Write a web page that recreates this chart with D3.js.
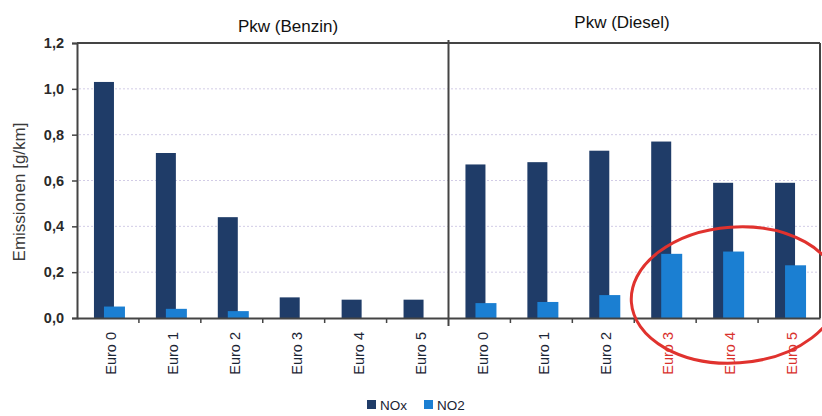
<!DOCTYPE html>
<html>
<head>
<meta charset="utf-8">
<script src="https://cdn.jsdelivr.net/npm/d3@7/dist/d3.min.js"></script>
<style>
  html, body { margin: 0; padding: 0; background: #fff; }
  svg { display: block; }
  text { font-family: "Liberation Sans", Arial, sans-serif; }
</style>
</head>
<body>
<svg id="chart" width="822" height="416"></svg>
<script>
// Emission classes per vehicle group
const groups = ["Pkw (Benzin)", "Pkw (Diesel)"];
const categories = ["Euro 0", "Euro 1", "Euro 2", "Euro 3", "Euro 4", "Euro 5"];

// NOx and NO2 emissions in g/km
const noxBenzin = [1.03, 0.72, 0.44, 0.09, 0.08, 0.08];
const no2Benzin = [0.05, 0.04, 0.03, 0, 0, 0];
const noxDiesel = [0.67, 0.68, 0.73, 0.77, 0.59, 0.59];
const no2Diesel = [0.065, 0.07, 0.10, 0.28, 0.29, 0.23];

const yTicks = [0, 0.2, 0.4, 0.6, 0.8, 1.0, 1.2];
const highlighted = ["Pkw (Diesel)|Euro 3", "Pkw (Diesel)|Euro 4", "Pkw (Diesel)|Euro 5"];

const rows = [];
groups.forEach((g, gi) => {
  const nox = gi === 0 ? noxBenzin : noxDiesel;
  const no2 = gi === 0 ? no2Benzin : no2Diesel;
  categories.forEach((c, ci) => {
    rows.push({ key: g + "|" + c, group: g, cat: c, nox: nox[ci], no2: no2[ci] });
  });
});

const colNOx = "#1f3c68";
const colNO2 = "#1b7fd2";
const axisCol = "#444";

const svg = d3.select("#chart");
const plotL = 77, plotR = 820, plotT = 43, plotB = 318;

const x = d3.scaleBand().domain(rows.map(d => d.key)).range([plotL, plotR]).padding(0);
const y = d3.scaleLinear().domain([0, 1.2]).range([plotB, plotT]);

// dotted gridlines
svg.append("g").selectAll("line")
  .data(yTicks.filter(t => t > 0 && t < 1.2))
  .join("line")
  .attr("x1", plotL + 2).attr("x2", plotR)
  .attr("y1", d => y(d)).attr("y2", d => y(d))
  .attr("stroke", "#d2cce6").attr("stroke-width", 1)
  .attr("stroke-dasharray", "2,2");

// bars: NOx behind, NO2 overlapping in front
const bw = 20;
const bars = svg.append("g");
bars.selectAll("rect.nox").data(rows).join("rect")
  .attr("class", "nox")
  .attr("x", d => x(d.key) + x.bandwidth() / 2 - 14)
  .attr("width", bw)
  .attr("y", d => y(d.nox))
  .attr("height", d => y(0) - y(d.nox))
  .attr("fill", colNOx);
bars.selectAll("rect.no2").data(rows.filter(d => d.no2 > 0)).join("rect")
  .attr("class", "no2")
  .attr("x", d => x(d.key) + x.bandwidth() / 2 - 4)
  .attr("width", bw + 1)
  .attr("y", d => y(d.no2))
  .attr("height", d => y(0) - y(d.no2))
  .attr("fill", colNO2);

// frame: top border, group divider, right border
svg.append("line").attr("x1", plotL).attr("x2", plotR).attr("y1", plotT).attr("y2", plotT)
  .attr("stroke", axisCol).attr("stroke-width", 2);
const divX = x(groups[1] + "|" + categories[0]);
svg.append("line").attr("x1", divX).attr("x2", divX).attr("y1", plotT - 3).attr("y2", plotB + 8)
  .attr("stroke", axisCol).attr("stroke-width", 2);
svg.append("line").attr("x1", plotR).attr("x2", plotR).attr("y1", plotT).attr("y2", plotB)
  .attr("stroke", axisCol).attr("stroke-width", 2);

// y axis
const yAxis = svg.append("g").attr("transform", `translate(${plotL},0)`)
  .call(d3.axisLeft(y).tickValues(yTicks).tickSize(5).tickPadding(8)
    .tickFormat(d => d3.format(".1f")(d).replace(".", ",")));
yAxis.select(".domain").attr("stroke", axisCol).attr("stroke-width", 2);
yAxis.selectAll(".tick line").attr("stroke", axisCol).attr("stroke-width", 1.5);
yAxis.selectAll(".tick text").attr("fill", "#2a2a2a").attr("font-size", 14.5).attr("font-weight", "bold");

// x axis
const xAxis = svg.append("g").attr("transform", `translate(0,${plotB})`)
  .call(d3.axisBottom(x).tickSize(0).tickFormat(k => k.split("|")[1]));
xAxis.select(".domain").attr("stroke", axisCol).attr("stroke-width", 2);
xAxis.selectAll(".tick text")
  .attr("transform", "rotate(-90)")
  .attr("text-anchor", "end")
  .attr("x", -14).attr("y", 3).attr("dy", "0.35em")
  .attr("font-size", 14.5)
  .attr("fill", k => highlighted.includes(k) ? "#d8312c" : "#1a2433");
// separator ticks between categories
svg.append("g").selectAll("line")
  .data(rows.slice(1).filter(d => d.key !== groups[1] + "|" + categories[0]))
  .join("line")
  .attr("x1", d => x(d.key)).attr("x2", d => x(d.key))
  .attr("y1", plotB).attr("y2", plotB + 5)
  .attr("stroke", axisCol).attr("stroke-width", 1.5);

// group titles
svg.append("text").attr("x", 288).attr("y", 32).attr("text-anchor", "middle")
  .attr("font-size", 17).attr("fill", "#111").attr("font-family", "Open Sans, sans-serif")
  .text(groups[0]);
svg.append("text").attr("x", 622).attr("y", 28).attr("text-anchor", "middle")
  .attr("font-size", 17).attr("fill", "#111").attr("font-family", "Open Sans, sans-serif")
  .text(groups[1]);

// y axis title
svg.append("text")
  .attr("transform", "translate(25,192) rotate(-90)")
  .attr("text-anchor", "middle")
  .attr("font-size", 17).attr("fill", "#3a3a3a")
  .text("Emissionen [g/km]");

// legend
const legend = svg.append("g").attr("transform", "translate(367,400)");
[["NOx", colNOx, 0], ["NO2", colNO2, 57]].forEach(([label, col, dx]) => {
  legend.append("rect").attr("x", dx).attr("y", 0).attr("width", 9).attr("height", 9).attr("fill", col);
  legend.append("text").attr("x", dx + 13).attr("y", 10).attr("font-size", 13.5)
    .attr("fill", "#1a2433").text(label);
});

// red highlight ellipse around the later diesel classes
const hx = x(groups[1] + "|" + categories[4]) + x.bandwidth() / 2;
svg.append("ellipse")
  .attr("cx", hx + 8).attr("cy", 295)
  .attr("rx", 104).attr("ry", 68)
  .attr("transform", `rotate(-4,${hx + 8},295)`)
  .attr("fill", "none").attr("stroke", "#e0322e").attr("stroke-width", 3);
</script>
</body>
</html>
